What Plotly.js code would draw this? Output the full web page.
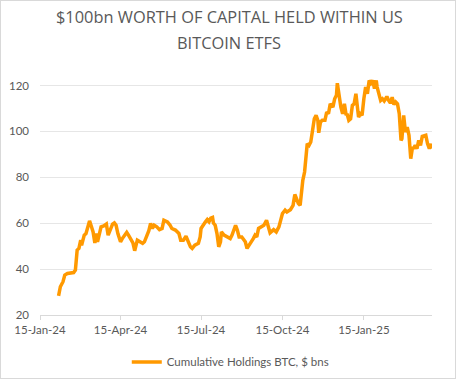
<!DOCTYPE html>
<html>
<head>
<meta charset="utf-8">
<script src="https://cdn.plot.ly/plotly-3.0.1.min.js"></script>
<style>
html,body{margin:0;padding:0;background:#fff;}
#wrap{position:relative;width:456px;height:379px;}
#chart{width:456px;height:379px;}
#frame{position:absolute;left:0;top:0;width:454px;height:377px;border:1px solid #d9d9d9;pointer-events:none;}
</style>
</head>
<body>
<div id="wrap"><div id="chart"></div><div id="frame"></div></div>
<script>
const dates = [
"2024-02-05","2024-02-07","2024-02-10","2024-02-12","2024-02-15","2024-02-18","2024-02-22","2024-02-24","2024-02-26","2024-02-28",
"2024-03-01","2024-03-02","2024-03-04","2024-03-05","2024-03-07","2024-03-09","2024-03-11","2024-03-13","2024-03-15","2024-03-17",
"2024-03-19","2024-03-20","2024-03-22","2024-03-24","2024-03-27","2024-03-30","2024-04-01","2024-04-03","2024-04-06","2024-04-08",
"2024-04-10","2024-04-12","2024-04-15","2024-04-17","2024-04-19","2024-04-22","2024-04-24","2024-04-27","2024-04-29","2024-05-01",
"2024-05-02","2024-05-04","2024-05-07","2024-05-10","2024-05-12","2024-05-15","2024-05-17","2024-05-19","2024-05-21","2024-05-23",
"2024-05-26","2024-05-29","2024-06-01","2024-06-03","2024-06-05","2024-06-07","2024-06-10","2024-06-12","2024-06-16","2024-06-20",
"2024-06-22","2024-06-25","2024-06-28","2024-07-01","2024-07-03","2024-07-05","2024-07-08","2024-07-12","2024-07-14","2024-07-15",
"2024-07-18","2024-07-20","2024-07-22","2024-07-24","2024-07-26","2024-07-28","2024-07-29","2024-07-31","2024-08-02","2024-08-04",
"2024-08-06","2024-08-07","2024-08-10","2024-08-13","2024-08-17","2024-08-19","2024-08-23","2024-08-25","2024-08-27","2024-08-30",
"2024-09-03","2024-09-05","2024-09-09","2024-09-12","2024-09-14","2024-09-16","2024-09-18","2024-09-22","2024-09-24","2024-09-27",
"2024-09-30","2024-10-01","2024-10-05","2024-10-08","2024-10-11","2024-10-13","2024-10-15","2024-10-18","2024-10-20","2024-10-24",
"2024-10-27","2024-10-29","2024-10-31","2024-11-02","2024-11-04","2024-11-06","2024-11-07","2024-11-09","2024-11-11","2024-11-12",
"2024-11-14","2024-11-16","2024-11-18","2024-11-20","2024-11-22","2024-11-24","2024-11-25","2024-11-27","2024-11-29","2024-12-02",
"2024-12-04","2024-12-06","2024-12-08","2024-12-11","2024-12-13","2024-12-15","2024-12-16","2024-12-18","2024-12-20","2024-12-22",
"2024-12-24","2024-12-26","2024-12-27","2024-12-29","2024-12-31","2025-01-02","2025-01-04","2025-01-06","2025-01-08","2025-01-09",
"2025-01-11","2025-01-13","2025-01-15","2025-01-17","2025-01-19","2025-01-21","2025-01-23","2025-01-25","2025-01-27","2025-01-29",
"2025-01-30","2025-02-01","2025-02-03","2025-02-05","2025-02-07","2025-02-08","2025-02-10","2025-02-12","2025-02-14","2025-02-16",
"2025-02-18","2025-02-20","2025-02-22","2025-02-24","2025-02-26","2025-02-27","2025-03-01","2025-03-03","2025-03-05","2025-03-07",
"2025-03-09","2025-03-11","2025-03-12","2025-03-14","2025-03-16","2025-03-18","2025-03-20","2025-03-22","2025-03-26","2025-03-28",
"2025-03-30","2025-04-01","2025-04-02"
];
const holdings = [
28.3,32.3,34.5,37.4,38.1,38.4,38.5,39.6,48.3,49.0,
52.6,50.4,54.0,54.8,55.5,59.1,61.0,58.7,56.2,51.4,
55.5,51.9,56.2,58.4,58.8,59.6,54.8,57.0,59.6,60.1,
59.1,55.5,51.9,53.3,54.3,56.0,54.8,52.6,51.4,48.0,
49.7,52.6,51.9,51.2,51.9,54.8,56.7,59.9,57.7,59.1,
58.4,57.2,57.7,61.3,61.0,60.6,59.1,57.7,57.0,55.5,
52.6,52.6,54.3,51.9,49.7,49.0,50.4,51.2,54.0,57.7,
59.1,60.6,61.6,60.6,62.2,62.5,60.1,59.1,55.5,49.7,
51.9,56.2,54.8,54.0,53.3,54.8,59.1,57.0,54.0,54.0,
51.9,49.0,51.2,53.3,54.8,54.0,57.7,58.4,59.1,61.3,
57.0,55.8,57.2,56.2,58.4,62.0,64.2,65.7,64.9,65.9,
67.8,72.5,70.7,68.6,67.8,77.2,78.7,82.3,91.7,94.6,
93.9,95.4,100.4,105.5,107.0,104.8,99.4,104.1,104.8,104.8,
108.4,107.7,112.0,110.6,114.2,115.7,121.0,114.2,110.6,107.7,
112.0,107.0,107.7,104.8,105.5,111.3,112.0,116.4,107.0,106.2,
107.7,107.0,114.2,119.3,116.4,122.2,121.0,122.2,118.6,122.2,
119.3,116.4,113.5,114.2,113.2,113.8,115.2,113.5,112.3,114.9,
111.7,112.8,112.0,107.7,96.1,96.8,107.0,99.7,101.9,98.3,
88.1,93.2,92.5,93.9,92.5,96.1,93.9,97.8,98.3,94.6,
92.5,94.6,92.5
];
const seriesName = "Cumulative Holdings BTC, $ bns";
const titleLines = ["$100bn WORTH OF CAPITAL HELD WITHIN US", "BITCOIN ETFS"];
const tickDates = ["2024-01-15","2024-04-15","2024-07-15","2024-10-15","2025-01-15"];
const tickLabels = ["15-Jan-24","15-Apr-24","15-Jul-24","15-Oct-24","15-Jan-25"];
const yTicks = [20,40,60,80,100,120];

const H = 379, mT = 74, mB = 64;
const plotH = H - mT - mB;
function paperY(px) { return (H - mB - px) / plotH; }

const trace = {
  x: dates, y: holdings, type: "scatter", mode: "lines", name: seriesName,
  line: {color: "#FF9900", width: 3.5}
};
const titleFont = {family: "Open Sans", size: 16.4, color: "#595959"};
const labelFont = {family: "Lato", size: 11.5, color: "#595959"};
const layout = {
  width: 456, height: H,
  paper_bgcolor: "#ffffff", plot_bgcolor: "#ffffff",
  margin: {l: 40, r: 24, t: mT, b: mB},
  showlegend: true,
  legend: {orientation: "h", x: 0.505, xanchor: "center", xref: "container",
    y: 0.045, yanchor: "middle", yref: "container", font: labelFont},
  annotations: [
    {text: titleLines[0], xref: "paper", yref: "paper", x: 0.483, y: paperY(17),
     xanchor: "center", yanchor: "middle", showarrow: false, font: titleFont},
    {text: titleLines[1], xref: "paper", yref: "paper", x: 0.483, y: paperY(42),
     xanchor: "center", yanchor: "middle", showarrow: false, font: titleFont}
  ],
  xaxis: {
    type: "date", range: ["2024-01-15", "2025-04-02"],
    tickvals: tickDates, ticktext: tickLabels,
    showgrid: false, zeroline: false,
    showline: true, linecolor: "#d9d9d9", linewidth: 1,
    ticks: "outside", ticklen: 4, tickcolor: "#d9d9d9",
    ticklabelstandoff: 1.5,
    tickfont: labelFont
  },
  yaxis: {
    range: [20, 125], tickvals: yTicks,
    showgrid: true, gridcolor: "#e6e6e6", gridwidth: 1,
    zeroline: false, showline: false, ticks: "",
    ticklabelstandoff: 10,
    tickfont: labelFont
  }
};
Plotly.newPlot("chart", [trace], layout, {displayModeBar: false, staticPlot: true});
</script>
</body>
</html>
